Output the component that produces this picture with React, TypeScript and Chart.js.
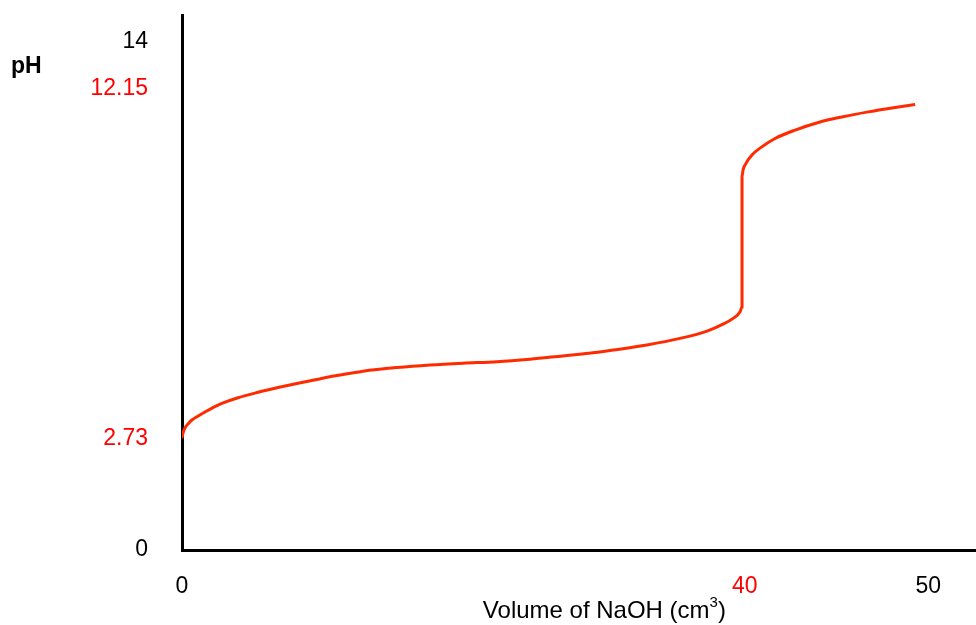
import React, { useEffect, useRef } from "react";
import { Chart, registerables } from "chart.js";

Chart.register(...registerables);

// Schematic titration curve (scale units)
const volumes = [0, 0.07, 0.21, 0.43, 0.71, 1.07, 1.64, 2.57, 4.0, 5.43, 6.86, 8.29, 9.71, 11.07, 12.93, 15.36, 17.71, 20.07, 22.5, 24.86, 27.21, 29.07, 30.79, 33.21, 35.57, 37.5, 38.64, 39.36, 39.86, 40.0, 40.0, 40.07, 40.21, 40.69, 41.41, 42.36, 43.79, 45.45, 47.12, 49.02, 50.93, 52.36];
const phValues = [3.07, 3.21, 3.35, 3.46, 3.57, 3.66, 3.79, 3.98, 4.18, 4.33, 4.46, 4.58, 4.69, 4.79, 4.91, 5.01, 5.08, 5.13, 5.17, 5.24, 5.33, 5.4, 5.49, 5.63, 5.81, 6.01, 6.2, 6.36, 6.54, 6.68, 10.25, 10.43, 10.57, 10.84, 11.07, 11.3, 11.53, 11.74, 11.89, 12.03, 12.15, 12.23];

// Tick positions (on the drawn scale) and their printed labels
const xTickValues = [0, 40.2, 53.3];
const xTickLabels = ["0", "40", "50"];
const xTickColors = ["#000000", "#ff0000", "#000000"];

const yTickValues = [0, 3.05, 12.66, 13.95];
const yTickLabels = ["0", "2.73", "12.15", "14"];
const yTickColors = ["#000000", "#ff0000", "#ff0000", "#000000"];

const xTitleMain = "Volume of NaOH (cm";
const xTitleSup = "3";
const xTitleEnd = ")";
const yTitle = "pH";

const FONT = '"Liberation Sans", Arial, sans-serif';

const annotations = {
  id: "annotations",
  afterDraw(chart: any) {
    const ctx = chart.ctx as CanvasRenderingContext2D;
    const area = chart.chartArea;
    ctx.save();
    ctx.fillStyle = "#000000";
    ctx.textAlign = "left";
    ctx.textBaseline = "alphabetic";
    // y title
    ctx.font = `bold 23px ${FONT}`;
    ctx.fillText(yTitle, 11, 73);
    // x title with superscript
    ctx.font = `24px ${FONT}`;
    const wMain = ctx.measureText(xTitleMain).width;
    const wEnd = ctx.measureText(xTitleEnd).width;
    ctx.font = `15px ${FONT}`;
    const wSup = ctx.measureText(xTitleSup).width;
    const total = wMain + wSup + wEnd;
    const cx = area.left + (area.right - area.left) * 0.532;
    const x0 = cx - total / 2;
    const base = area.bottom + 68;
    ctx.font = `24px ${FONT}`;
    ctx.fillText(xTitleMain, x0, base);
    ctx.font = `15px ${FONT}`;
    ctx.fillText(xTitleSup, x0 + wMain, base - 11);
    ctx.font = `24px ${FONT}`;
    ctx.fillText(xTitleEnd, x0 + wMain + wSup, base);
    ctx.restore();
  },
};

export default function App() {
  const canvasRef = useRef<HTMLCanvasElement>(null);

  useEffect(() => {
    document.body.style.margin = "0";
    const canvas = canvasRef.current;
    if (!canvas) return;
    const points = volumes.map((v, i) => ({ x: v, y: phValues[i] }));
    const chart = new Chart(canvas, {
      type: "line",
      data: {
        datasets: [
          {
            data: points,
            borderColor: "#ff2a00",
            borderWidth: 3,
            pointRadius: 0,
            fill: false,
            cubicInterpolationMode: "monotone",
          },
        ],
      },
      options: {
        animation: false,
        responsive: false,
        maintainAspectRatio: false,
        layout: { autoPadding: false, padding: { top: 15, left: 0, right: 0, bottom: 0 } },
        plugins: {
          legend: { display: false },
          tooltip: { enabled: false },
          title: { display: false },
        },
        scales: {
          x: {
            type: "linear",
            min: 0,
            max: 56.71,
            grid: { display: false, drawTicks: false },
            border: { display: true, color: "#000000", width: 3 },
            afterBuildTicks: (scale: any) => {
              scale.ticks = xTickValues.map((v) => ({ value: v }));
            },
            afterFit: (scale: any) => {
              scale.height = 75;
              scale.paddingLeft = 0;
              scale.paddingRight = 0;
              scale.paddingTop = 0;
              scale.paddingBottom = 0;
            },
            ticks: {
              autoSkip: false,
              maxRotation: 0,
              padding: 23,
              font: { family: FONT, size: 23 },
              color: (c: any) => xTickColors[c.index] ?? "#000000",
              callback: (_v: any, i: number) => xTickLabels[i],
            },
          },
          y: {
            type: "linear",
            min: 0,
            max: 14.69,
            grid: { display: false, drawTicks: false },
            border: { display: true, color: "#000000", width: 3 },
            afterBuildTicks: (scale: any) => {
              scale.ticks = yTickValues.map((v) => ({ value: v }));
            },
            afterFit: (scale: any) => {
              scale.width = 182;
              scale.paddingLeft = 0;
              scale.paddingRight = 0;
              scale.paddingTop = 0;
              scale.paddingBottom = 0;
            },
            ticks: {
              autoSkip: false,
              padding: 34,
              font: { family: FONT, size: 23 },
              color: (c: any) => yTickColors[c.index] ?? "#000000",
              callback: (_v: any, i: number) => yTickLabels[i],
            },
          },
        },
      },
      plugins: [annotations],
    });
    return () => chart.destroy();
  }, []);

  return (
    <div style={{ position: "absolute", left: 0, top: 0, width: 976, height: 625, background: "#ffffff" }}>
      <canvas ref={canvasRef} width={976} height={625} style={{ width: 976, height: 625 }} />
    </div>
  );
}
